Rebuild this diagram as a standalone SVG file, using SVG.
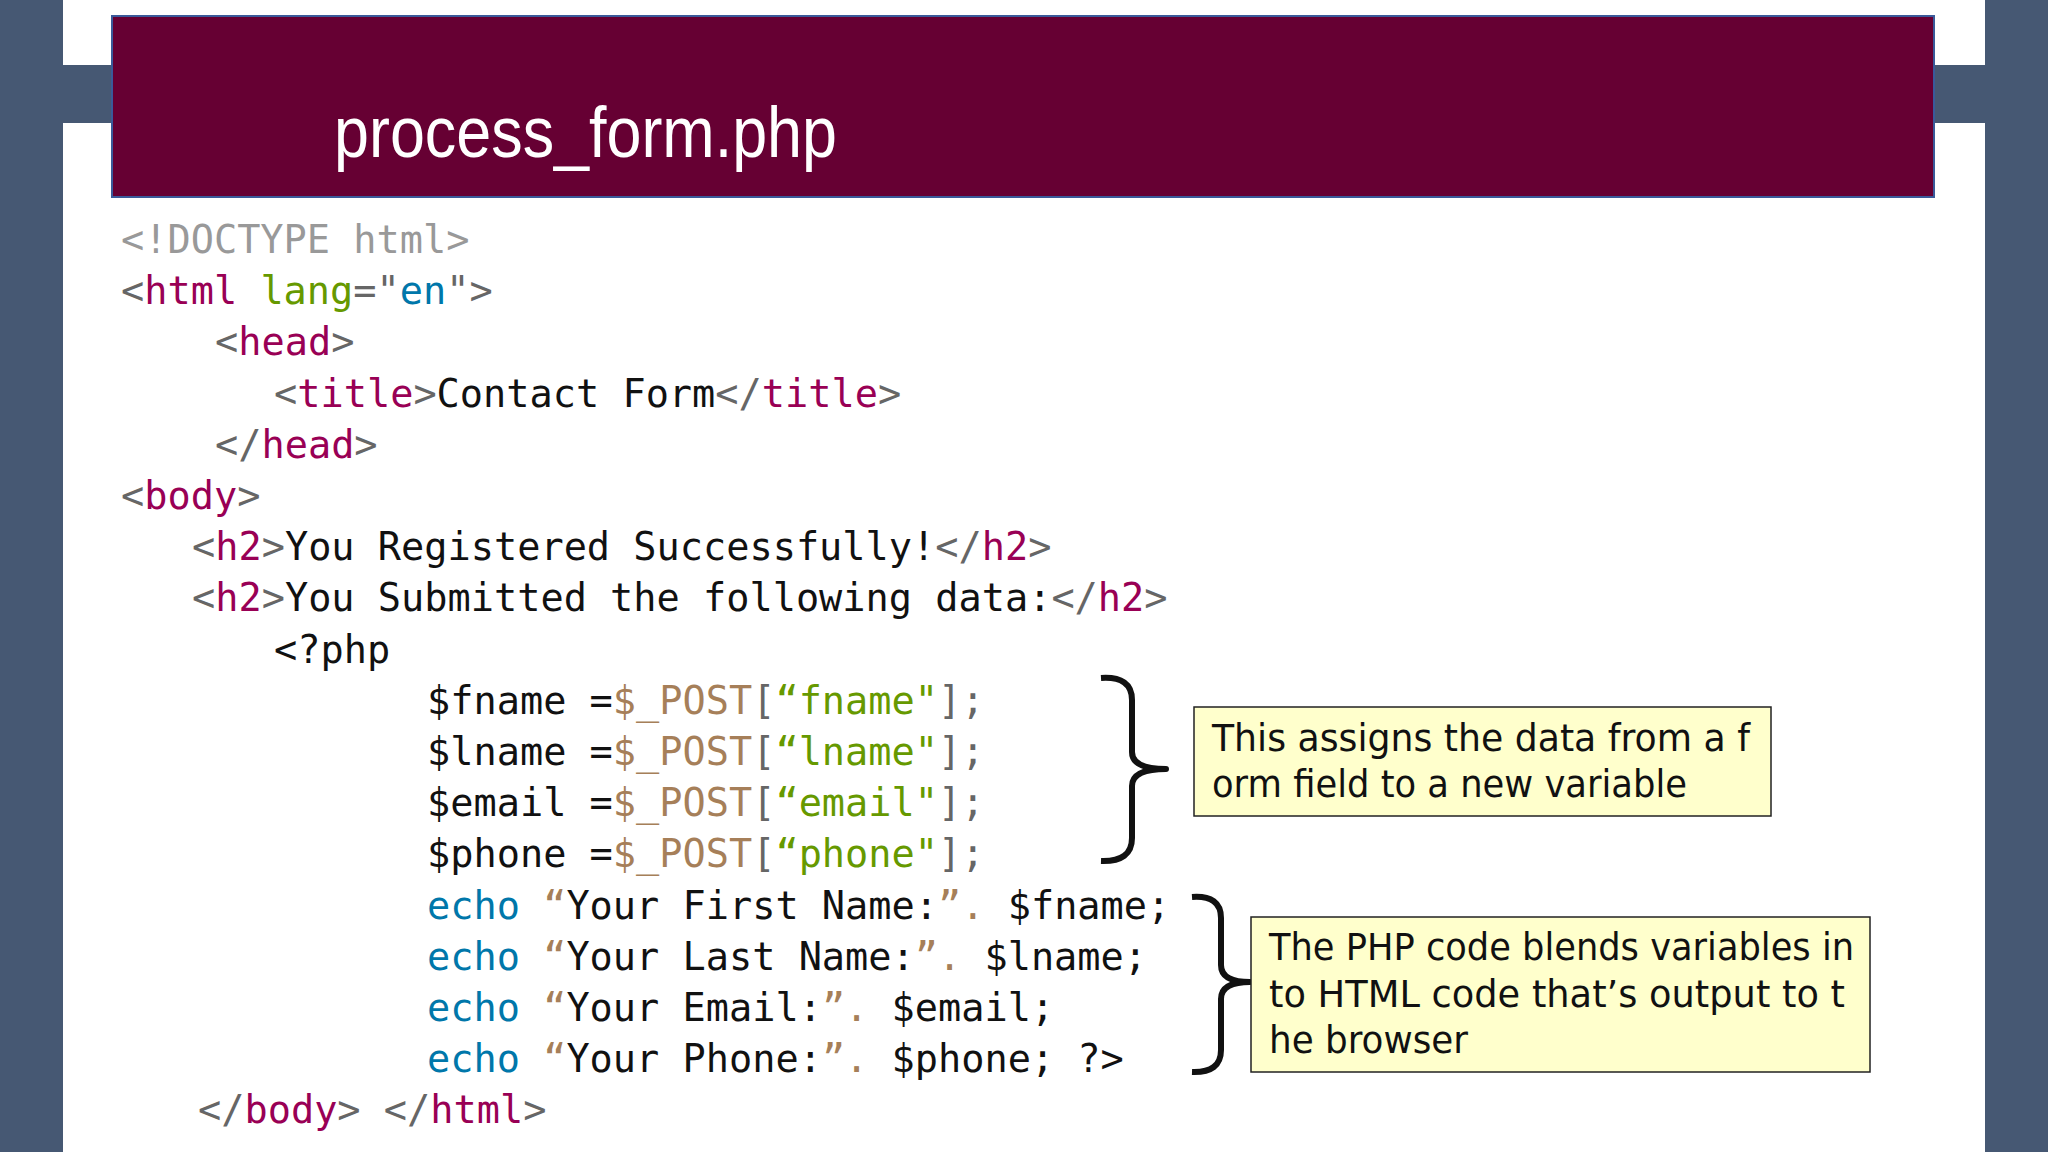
<svg xmlns="http://www.w3.org/2000/svg" width="2048" height="1152" viewBox="0 0 2048 1152">
<style>
.c{font-family:"DejaVu Sans Mono","Liberation Mono",monospace;font-size:38.6px;fill:#111}
.g{fill:#999}.p{fill:#666}.t{fill:#990055}.a{fill:#669900}.v{fill:#0077aa}.b{fill:#a67f59}.k{fill:#111}
.n{font-family:"Comic Sans MS","DejaVu Sans",sans-serif;font-size:37px;fill:#111}
.box{fill:#ffffcc;stroke:#222;stroke-width:1.5}
.br{fill:none;stroke:#111;stroke-width:6;stroke-linejoin:round}
</style>
<rect width="2048" height="1152" fill="#fff"/>
<rect x="0" y="0" width="63" height="1152" fill="#465873"/>
<rect x="1985" y="0" width="63" height="1152" fill="#465873"/>
<rect x="63" y="65" width="59" height="58" fill="#465873"/>
<rect x="1923" y="65" width="62" height="58" fill="#465873"/>
<g id="title">
<rect x="112" y="16" width="1822" height="181" fill="#660033" stroke="#3a5a9a" stroke-width="2"/>
<text x="334" y="157" font-family="Liberation Sans,Arial,sans-serif" font-size="72" fill="#fff" textLength="503" lengthAdjust="spacingAndGlyphs">process_form.php</text>
</g>
<g id="code" class="c" xml:space="preserve">
<text x="121" y="253" class="c g">&lt;!DOCTYPE html&gt;</text>
<text x="121" y="304" class="c"><tspan class="p">&lt;</tspan><tspan class="t">html</tspan> <tspan class="a">lang</tspan><tspan class="p">="</tspan><tspan class="v">en</tspan><tspan class="p">"&gt;</tspan></text>
<text x="215" y="355" class="c"><tspan class="p">&lt;</tspan><tspan class="t">head</tspan><tspan class="p">&gt;</tspan></text>
<text x="274" y="407" class="c"><tspan class="p">&lt;</tspan><tspan class="t">title</tspan><tspan class="p">&gt;</tspan>Contact Form<tspan class="p">&lt;/</tspan><tspan class="t">title</tspan><tspan class="p">&gt;</tspan></text>
<text x="215" y="458" class="c"><tspan class="p">&lt;/</tspan><tspan class="t">head</tspan><tspan class="p">&gt;</tspan></text>
<text x="121" y="509" class="c"><tspan class="p">&lt;</tspan><tspan class="t">body</tspan><tspan class="p">&gt;</tspan></text>
<text x="192" y="560" class="c"><tspan class="p">&lt;</tspan><tspan class="t">h2</tspan><tspan class="p">&gt;</tspan>You Registered Successfully!<tspan class="p">&lt;/</tspan><tspan class="t">h2</tspan><tspan class="p">&gt;</tspan></text>
<text x="192" y="611" class="c"><tspan class="p">&lt;</tspan><tspan class="t">h2</tspan><tspan class="p">&gt;</tspan>You Submitted the following data:<tspan class="p">&lt;/</tspan><tspan class="t">h2</tspan><tspan class="p">&gt;</tspan></text>
<text x="274" y="663" class="c">&lt;?php</text>
<text x="427" y="714" class="c">$fname =<tspan class="b">$_POST</tspan><tspan class="p">[</tspan><tspan class="a">“fname"</tspan><tspan class="p">];</tspan></text>
<text x="427" y="765" class="c">$lname =<tspan class="b">$_POST</tspan><tspan class="p">[</tspan><tspan class="a">“lname"</tspan><tspan class="p">];</tspan></text>
<text x="427" y="816" class="c">$email =<tspan class="b">$_POST</tspan><tspan class="p">[</tspan><tspan class="a">“email"</tspan><tspan class="p">];</tspan></text>
<text x="427" y="867" class="c">$phone =<tspan class="b">$_POST</tspan><tspan class="p">[</tspan><tspan class="a">“phone"</tspan><tspan class="p">];</tspan></text>
<text x="427" y="919" class="c"><tspan class="v">echo</tspan> <tspan class="b">“</tspan>Your First Name:<tspan class="b">”.</tspan> $fname;</text>
<text x="427" y="970" class="c"><tspan class="v">echo</tspan> <tspan class="b">“</tspan>Your Last Name:<tspan class="b">”.</tspan> $lname;</text>
<text x="427" y="1021" class="c"><tspan class="v">echo</tspan> <tspan class="b">“</tspan>Your Email:<tspan class="b">”.</tspan> $email;</text>
<text x="427" y="1072" class="c"><tspan class="v">echo</tspan> <tspan class="b">“</tspan>Your Phone:<tspan class="b">”.</tspan> $phone;  ?&gt;</text>
<text x="198" y="1123" class="c"><tspan class="p">&lt;/</tspan><tspan class="t">body</tspan><tspan class="p">&gt;</tspan> <tspan class="p">&lt;/</tspan><tspan class="t">html</tspan><tspan class="p">&gt;</tspan></text>
</g>
<g id="connectors">
<path class="br" d="M1101 678 Q1132 676 1132 700 L1132 752 Q1132 769 1166 769 Q1132 769 1132 786 L1132 838 Q1132 862 1101 861"/>
<path class="br" d="M1192 897 Q1221 895 1221 918 L1221 965 Q1221 982 1250 982 Q1221 982 1221 999 L1221 1050 Q1221 1073 1192 1072"/>
</g>
<g id="note1">
<rect class="box" x="1194" y="707" width="577" height="109"/>
<text class="n" x="1212" y="751" textLength="538" lengthAdjust="spacingAndGlyphs">This assigns the data from a f</text>
<text class="n" x="1212" y="797" textLength="475" lengthAdjust="spacingAndGlyphs">orm field to a new variable</text>
</g>
<g id="note2">
<rect class="box" x="1251" y="917" width="619" height="155"/>
<text class="n" x="1269" y="960" textLength="585" lengthAdjust="spacingAndGlyphs">The PHP code blends variables in</text>
<text class="n" x="1269" y="1007" textLength="576" lengthAdjust="spacingAndGlyphs">to HTML code that’s output to t</text>
<text class="n" x="1269" y="1053" textLength="199" lengthAdjust="spacingAndGlyphs">he browser</text>
</g>
</svg>
